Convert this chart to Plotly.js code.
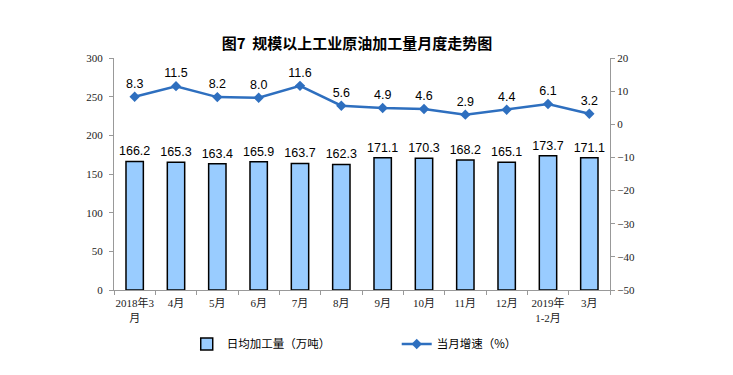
<!DOCTYPE html>
<html><head><meta charset="utf-8">
<script src="https://cdn.plot.ly/plotly-3.0.1.min.js"></script>
<style>body{margin:0;background:#fff}#c{width:733px;height:375px}</style>
</head><body><div id="c"></div>
<script>
const categories = ["2018年3<br>月","4月","5月","6月","7月","8月","9月","10月","11月","12月","2019年<br>1-2月","3月"];
const dailyOutput = [166.2,165.3,163.4,165.9,163.7,162.3,171.1,170.3,168.2,165.1,173.7,171.1];
const monthlyGrowth = [8.3,11.5,8.2,8.0,11.6,5.6,4.9,4.6,2.9,4.4,6.1,3.2];
const growthLabels = ["8.3","11.5","8.2","8.0","11.6","5.6","4.9","4.6","2.9","4.4","6.1","3.2"];

const tickFont = {family:"Liberation Serif, Noto Sans CJK SC, serif", size:11, color:"#222"};
const labelFont = {family:"Liberation Sans, Arial", size:12.5, color:"#000"};
const traces = [
  {type:"bar", x:categories, y:dailyOutput, name:"日均加工量（万吨）",
   marker:{color:"#99ccff", line:{color:"#000", width:1.5}}, width:0.42,
   text:dailyOutput.map(v=>v.toFixed(1)), textposition:"outside", cliponaxis:false,
   constraintext:"none", textfont:labelFont, outsidetextfont:labelFont},
  {type:"scatter", mode:"lines+markers+text", x:categories, y:monthlyGrowth, yaxis:"y2",
   name:"当月增速（%）", line:{color:"#2e6fbf", width:2.5},
   marker:{symbol:"diamond", size:8, color:"#2e6fbf"},
   text:growthLabels, textposition:"top center", cliponaxis:false,
   textfont:labelFont}
];
const layout = {
  width:733, height:375, margin:{l:114, r:123, t:58, b:85},
  paper_bgcolor:"#fff", plot_bgcolor:"#fff",
  title:{text:"<b>图7  规模以上工业原油加工量月度走势图</b>", x:0.487, xanchor:"center", y:0.883, yanchor:"middle",
    font:{family:"Noto Sans CJK SC", size:15, color:"#000"}},
  xaxis:{type:"category", range:[-0.5,11.5], autorange:false, tickfont:tickFont, tickangle:0, automargin:false,
    showline:true, linecolor:"#999", linewidth:1, ticklabelstandoff:3,
    ticks:"outside", tickson:"boundaries", ticklen:4, tickcolor:"#999", showgrid:false},
  yaxis:{range:[0,300], dtick:50, tickfont:tickFont, automargin:false, showline:true, linecolor:"#999",
    ticks:"outside", ticklen:4, tickcolor:"#999", showgrid:false, zeroline:false, ticklabelstandoff:4},
  yaxis2:{range:[-50,20], dtick:10, overlaying:"y", side:"right", tickfont:tickFont, automargin:false, showline:true,
    linecolor:"#999", ticks:"outside", ticklen:4, tickcolor:"#999", showgrid:false, zeroline:false},
  showlegend:true,
  legend:{orientation:"h", x:0.57, xanchor:"center", y:-0.17, yanchor:"top",
    font:{family:"Noto Sans CJK SC", size:11.5, color:"#000"}, traceorder:"normal",
    entrywidthmode:"pixels", entrywidth:165}
};
Plotly.newPlot("c", traces, layout, {staticPlot:true});
</script></body></html>
